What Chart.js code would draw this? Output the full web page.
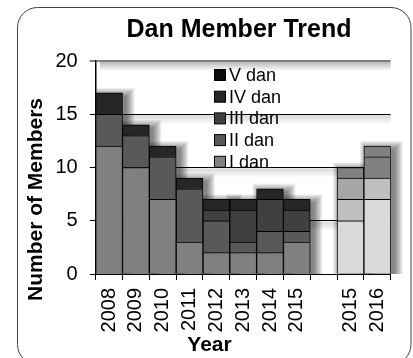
<!DOCTYPE html>
<html><head><meta charset="utf-8">
<script src="https://cdn.jsdelivr.net/npm/chart.js@4.4.1/dist/chart.umd.min.js"></script>
<style>html,body{margin:0;padding:0;background:#fff;} canvas{display:block;}</style>
</head><body>
<canvas id="c" width="413" height="358"></canvas>
<script>
// ---- data ----
const categories = ['2008','2009','2010','2011','2012','2013','2014','2015','','2015','2016'];
const danI   = [12,10,7,3,2,2,2,3,0,5,7];
const danII  = [3,3,4,5,3,1,2,1,0,2,2];
const danIII = [0,0,0,0,1,3,3,2,0,2,2];
const danIV  = [2,1,1,1,1,1,1,1,0,1,1];
const danV   = [0,0,0,0,0,0,0,0,0,0,0];
const seriesNames = ['I dan','II dan','III dan','IV dan','V dan'];
const yTickValues = [0,5,10,15,20];
const chartTitle = 'Dan Member Trend';
const xTitle = 'Year';
const yTitle = 'Number of Members';

// ---- styles ----
const FONT = "'Liberation Sans', Arial, sans-serif";
const legendColors = ['#808080','#595959','#404040','#262626','#0d0d0d'];
function barColors(left, r1, r2){
  return categories.map((c,i)=> i===9 ? r1 : (i===10 ? r2 : left));
}
const colorSets = [
  barColors('#808080','#d9d9d9','#d9d9d9'),
  barColors('#595959','#bfbfbf','#bfbfbf'),
  barColors('#404040','#a6a6a6','#808080'),
  barColors('#262626','#808080','#808080'),
  barColors('#0d0d0d','#0d0d0d','#0d0d0d')
];
const seriesData = [danI, danII, danIII, danIV, danV];

const datasets = seriesData.map((d,i)=>({
  label: seriesNames[i],
  data: d.map(v => v === 0 ? null : v),   // empty segments are not drawn
  backgroundColor: colorSets[i],
  borderColor: '#000',
  borderWidth: 1,
  barPercentage: 1,
  categoryPercentage: 1
}));

const framePlugin = {
  id: 'frame',
  beforeDraw(chart){
    const ctx = chart.ctx;
    ctx.save();
    ctx.fillStyle = '#fff';
    ctx.fillRect(0,0,chart.width,chart.height);
    ctx.beginPath();
    ctx.roundRect(17.5, 7.5, 393.5, 357, 20);
    ctx.strokeStyle = '#404040';
    ctx.lineWidth = 1;
    ctx.stroke();
    ctx.restore();
  },
  afterLayout(chart){
    if (chart.titleBlock){
      chart.titleBlock.left = 124;
      chart.titleBlock.right = 354;
    }
  }
};

// soft drop shadows under gridlines and behind each bar stack
const shadowPlugin = {
  id: 'shadow',
  beforeDatasetsDraw(chart){
    const ctx = chart.ctx;
    const a = chart.chartArea;
    const ys = chart.scales.y;
    ctx.save();
    ctx.beginPath();
    ctx.rect(a.left + 1, 0, chart.width - a.left, a.bottom);
    ctx.clip();
    // gridline haze
    yTickValues.forEach(v => {
      if (v === 0) return;
      const py = ys.getPixelForValue(v);
      const g = ctx.createLinearGradient(0, py + 1, 0, py + 10);
      const s = v === 20 ? 0.28 : 0.16;
      g.addColorStop(0, 'rgba(0,0,0,' + s + ')');
      g.addColorStop(1, 'rgba(0,0,0,0)');
      ctx.fillStyle = g;
      ctx.fillRect(a.left + 4, py + 1, a.right - a.left - 4, 9);
    });
    // bar stack shadows (layered rects approximate a blur)
    const n = chart.data.labels.length;
    for (let j = 0; j < n; j++){
      let top = Infinity, base = -Infinity, x = null, w = 0;
      chart.data.datasets.forEach((d, i) => {
        if (d.data[j] == null) return;
        const el = chart.getDatasetMeta(i).data[j];
        const p = el.getProps(['x','y','base','width'], true);
        top = Math.min(top, p.y, p.base);
        base = Math.max(base, p.y, p.base);
        x = p.x; w = p.width;
      });
      if (x === null) continue;
      const left = x - w/2 + 4, tp = top + 3, h = base - top;
      for (let k = 8; k >= 0; k--){
        ctx.fillStyle = 'rgba(0,0,0,0.065)';
        ctx.fillRect(left - k, tp - k, w + 2*k, h + 2*k);
      }
    }
    ctx.restore();
  }
};

const labelsPlugin = {
  id: 'labels',
  afterDraw(chart){
    const ctx = chart.ctx;
    ctx.save();
    // legend (reverse order)
    ctx.font = '18px ' + FONT;
    ctx.textBaseline = 'middle';
    ctx.textAlign = 'left';
    const ds = chart.data.datasets;
    let y = 75;
    for (let k = ds.length - 1; k >= 0; k--){
      ctx.fillStyle = legendColors[k];
      ctx.fillRect(214.5, y - 5.5, 11, 11);
      ctx.strokeStyle = '#000';
      ctx.lineWidth = 1;
      ctx.strokeRect(214.5, y - 5.5, 11, 11);
      ctx.fillStyle = '#000';
      ctx.fillText(ds[k].label, 229, y + 1);
      y += 21.7;
    }
    // axis titles
    ctx.font = 'bold 21px ' + FONT;
    ctx.textAlign = 'center';
    ctx.fillText(xTitle, 209.5, 345);
    ctx.translate(36.7, 199.5);
    ctx.rotate(-Math.PI/2);
    ctx.fillText(yTitle, 0, 0);
    ctx.restore();
  }
};

new Chart(document.getElementById('c'), {
  type: 'bar',
  data: { labels: categories, datasets },
  options: {
    responsive: false,
    animation: false,
    events: [],
    layout: { padding: { left: 0, right: 22.3, top: 0, bottom: 0 } },
    plugins: {
      legend: { display: false },
      tooltip: { enabled: false },
      title: {
        display: true,
        text: chartTitle,
        color: '#000',
        font: { family: FONT, size: 25, weight: 'bold' },
        padding: { top: 15, bottom: 16 }
      }
    },
    scales: {
      x: {
        stacked: true,
        offset: true,
        grid: { display: true, drawOnChartArea: false, drawTicks: true, tickLength: 6, color: '#000', tickColor: '#000', offset: true },
        border: { display: true, color: '#000', width: 1 },
        ticks: { color: '#000', font: { family: FONT, size: 20 }, minRotation: 90, maxRotation: 90, padding: 8, autoSkip: false },
        afterFit(scale){ scale.height = 84; }
      },
      y: {
        stacked: true,
        min: 0, max: 20,
        afterBuildTicks(scale){ scale.ticks = yTickValues.map(v => ({ value: v })); },
        grid: {
          drawTicks: true, tickLength: 6,
          color: (c) => (c.tick && c.tick.value === 20) ? '#808080' : '#000',
          lineWidth: (c) => (c.tick && c.tick.value === 20) ? 2 : 1,
          tickColor: (c) => (c.tick && c.tick.value === 20) ? '#808080' : '#000'
        },
        border: { display: true, color: '#000', width: 1.5 },
        ticks: { color: '#000', font: { family: FONT, size: 20 }, padding: 12 },
        afterFit(scale){ scale.width = 95.7; }
      }
    }
  },
  plugins: [framePlugin, shadowPlugin, labelsPlugin]
});
</script>
</body></html>
